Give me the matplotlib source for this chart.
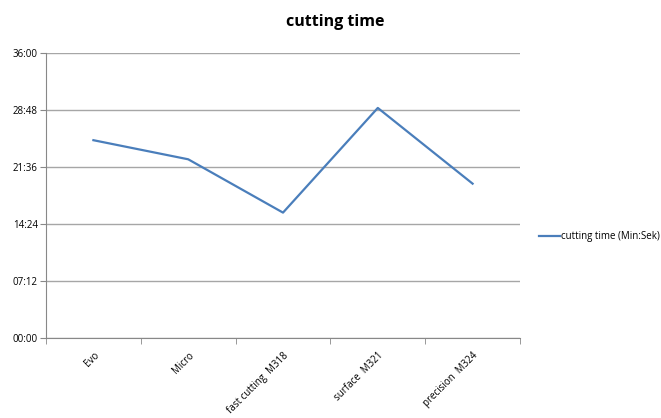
import matplotlib
matplotlib.use("Agg")
import matplotlib.pyplot as plt
from matplotlib.ticker import FixedLocator

categories = ["Evo", "Micro", "fast cutting  M318", "surface  M321", "precision  M324"]
times = ["25:00", "22:35", "15:50", "29:05", "19:30"]  # Min:Sek
series_name = "cutting time (Min:Sek)"
y_ticks = ["00:00", "07:12", "14:24", "21:36", "28:48", "36:00"]

def to_min(s):
    m, sec = s.split(":")
    return int(m) + int(sec) / 60.0

values = [to_min(t) for t in times]
ytick_vals = [to_min(t) for t in y_ticks]

plt.rcParams['font.family'] = ['Open Sans', 'DejaVu Sans']

fig = plt.figure(figsize=(6.61, 4.18), dpi=100)
ax = fig.add_axes([46/661, 1 - 337.7/418, (520-46)/661, (337.7-53.3)/418])

x = list(range(len(categories)))
line, = ax.plot(x, values, color="#4A7EBB", linewidth=1.6, label=series_name)

ax.set_xlim(-0.5, len(categories) - 0.5)
ax.set_ylim(ytick_vals[0], ytick_vals[-1])
ax.yaxis.set_major_locator(FixedLocator(ytick_vals))
ax.set_yticklabels(y_ticks)
ax.grid(axis="y", color="#A6A6A6", linewidth=1)
ax.set_axisbelow(True)

ax.set_xticks(x)
ax.set_xticklabels(categories, rotation=45, ha="right", rotation_mode="anchor", fontsize=7)
ax.tick_params(axis="x", which="major", length=0, pad=9)
ax.set_xticks([i - 0.5 for i in range(len(categories) + 1)], minor=True)
ax.tick_params(axis="x", which="minor", length=4, color="#888888")
ax.tick_params(axis="y", length=4, color="#888888", labelsize=7, pad=2)

for s in ["top", "right"]:
    ax.spines[s].set_visible(False)
for s in ["left", "bottom"]:
    ax.spines[s].set_color("#888888")

fig.text(335/661, 1 - 22/418, "cutting time", ha="center", va="center", fontsize=11.5, fontweight="bold")

fig.legend(handles=[line], loc="center left", bbox_to_anchor=(535/661, 1 - 237/418),
           frameon=False, fontsize=7, handlelength=2.2, handletextpad=0.1, borderaxespad=0)

fig.savefig("out.png", dpi=100)
